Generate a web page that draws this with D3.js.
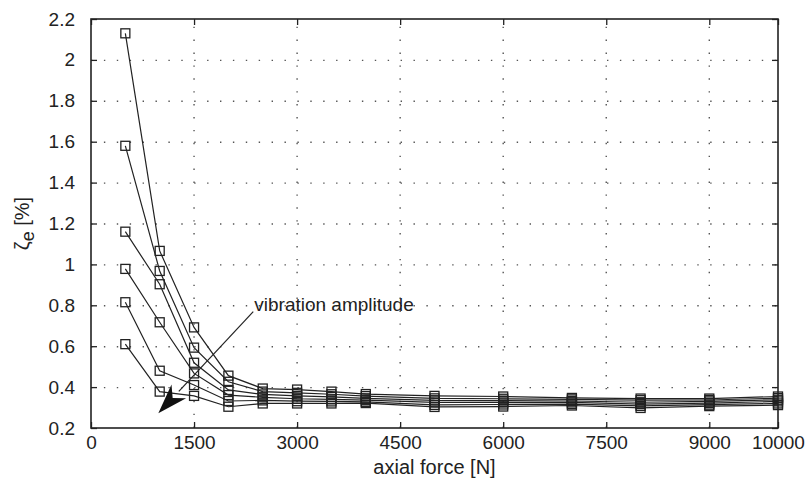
<!DOCTYPE html>
<html>
<head>
<meta charset="utf-8">
<script src="https://cdn.jsdelivr.net/npm/d3@7"></script>
<style>
  body { margin: 0; background: #fff; }
  svg { display: block; font-family: "Liberation Sans", Arial, sans-serif; }
</style>
</head>
<body>
<svg width="808" height="492"></svg>
<script>
// axial force values [N]
var forces = [500, 1000, 1500, 2000, 2500, 3000, 3500, 4000, 5000, 6000, 7000, 8000, 9000, 10000];

// equivalent damping ratio [%], one array per vibration amplitude (largest first)
var amp1 = [2.13, 1.066, 0.692, 0.456, 0.393, 0.388, 0.378, 0.366, 0.357, 0.354, 0.347, 0.344, 0.344, 0.354];
var amp2 = [1.58, 0.968, 0.593, 0.426, 0.378, 0.372, 0.365, 0.356, 0.345, 0.343, 0.340, 0.336, 0.337, 0.346];
var amp3 = [1.16, 0.903, 0.519, 0.386, 0.364, 0.357, 0.352, 0.345, 0.335, 0.334, 0.332, 0.326, 0.330, 0.338];
var amp4 = [0.978, 0.717, 0.467, 0.361, 0.350, 0.343, 0.340, 0.336, 0.325, 0.325, 0.325, 0.317, 0.322, 0.330];
var amp5 = [0.815, 0.48, 0.41, 0.332, 0.335, 0.331, 0.330, 0.328, 0.313, 0.315, 0.317, 0.308, 0.314, 0.320];
var amp6 = [0.61, 0.378, 0.357, 0.304, 0.320, 0.320, 0.320, 0.322, 0.303, 0.305, 0.310, 0.298, 0.307, 0.312];

var xTicks = [0, 1500, 3000, 4500, 6000, 7500, 9000, 10000];
var yTicks = [0.2, 0.4, 0.6, 0.8, 1, 1.2, 1.4, 1.6, 1.8, 2, 2.2];

function main(){
var svg = d3.select("svg"),
    margin = {top: 19, right: 30, bottom: 64, left: 91},
    width = +svg.attr("width") - margin.left - margin.right,
    height = +svg.attr("height") - margin.top - margin.bottom,
    g = svg.append("g").attr("transform", "translate(" + margin.left + "," + margin.top + ")");

var x = d3.scaleLinear().domain([0, 10000]).range([0, width]);
var y = d3.scaleLinear().domain([0.2, 2.2]).range([height, 0]);

var series = [amp1, amp2, amp3, amp4, amp5, amp6].map(function(vals) {
  return vals.map(function(v, i) { return {f: forces[i], z: v}; });
});

// dotted grid
g.append("g").selectAll("line")
  .data(yTicks.slice(1, -1))
  .enter().append("line")
    .attr("x1", 0).attr("x2", width)
    .attr("y1", function(d) { return y(d) + 0.5; })
    .attr("y2", function(d) { return y(d) + 0.5; })
    .attr("stroke", "#555").attr("stroke-width", 1.4)
    .attr("stroke-dasharray", "1.4,11.5");

g.append("g").selectAll("line")
  .data(xTicks.slice(1, -1))
  .enter().append("line")
    .attr("y1", height).attr("y2", 0)
    .attr("x1", function(d) { return x(d); })
    .attr("x2", function(d) { return x(d); })
    .attr("stroke", "#555").attr("stroke-width", 1.4)
    .attr("stroke-dasharray", "1.4,11.5");

// lines
var line = d3.line()
  .x(function(d) { return x(d.f); })
  .y(function(d) { return y(d.z); });

g.append("g").selectAll("path")
  .data(series)
  .enter().append("path")
    .attr("d", line)
    .attr("fill", "none")
    .attr("stroke", "#222")
    .attr("stroke-width", 1.2);

// square markers
g.append("g").selectAll("g")
  .data(series)
  .enter().append("g")
  .selectAll("rect")
  .data(function(d) { return d; })
  .enter().append("rect")
    .attr("x", function(d) { return x(d.f) - 4.5; })
    .attr("y", function(d) { return y(d.z) - 4.5; })
    .attr("width", 9).attr("height", 9)
    .attr("fill", "none")
    .attr("stroke", "#222")
    .attr("stroke-width", 1.3);

// axes with inward ticks on all four sides
var tickLen = 6;
function styleAxis(sel) {
  sel.select(".domain").remove();
  sel.selectAll(".tick line").attr("stroke", "#222").attr("stroke-width", 1.3);
  sel.selectAll(".tick text").attr("fill", "#222").attr("font-size", "19px")
     .attr("font-family", "'Liberation Sans', Arial, sans-serif");
}

g.append("g")
    .attr("transform", "translate(0," + height + ")")
    .call(d3.axisBottom(x).tickValues(xTicks).tickFormat(d3.format("d"))
      .tickSizeInner(-tickLen).tickSizeOuter(0).tickPadding(8))
    .call(styleAxis);

g.append("g")
    .call(d3.axisTop(x).tickValues(xTicks).tickFormat("")
      .tickSizeInner(-tickLen).tickSizeOuter(0))
    .call(styleAxis);

g.append("g")
    .call(d3.axisLeft(y).tickValues(yTicks).tickFormat(d3.format("~g"))
      .tickSizeInner(-tickLen).tickSizeOuter(0).tickPadding(16))
    .call(styleAxis);

g.append("g")
    .attr("transform", "translate(" + width + ",0)")
    .call(d3.axisRight(y).tickValues(yTicks).tickFormat("")
      .tickSizeInner(-tickLen).tickSizeOuter(0))
    .call(styleAxis);

// frame
g.append("rect")
    .attr("width", width).attr("height", height)
    .attr("fill", "none")
    .attr("stroke", "#222")
    .attr("stroke-width", 1.6);

// axis titles
svg.append("text")
    .attr("x", margin.left + width / 2)
    .attr("y", 474)
    .attr("text-anchor", "middle")
    .attr("font-size", "20px")
    .attr("fill", "#222")
    .text("axial force [N]");

var yl = svg.append("text")
    .attr("transform", "translate(29," + (margin.top + height / 2) + ") rotate(-90)")
    .attr("text-anchor", "middle")
    .attr("font-size", "20px")
    .attr("fill", "#222");
yl.append("tspan").text("ζ");
yl.append("tspan").attr("font-size", "18px").attr("dy", 5).text("e");
yl.append("tspan").attr("dy", -5).text(" [%]");

// annotation arrow
var start = {f: 2362, z: 0.769}, tip = {f: 980, z: 0.272};
var sx = x(start.f), sy = y(start.z), tx = x(tip.f), ty = y(tip.z);
var ang = Math.atan2(ty - sy, tx - sx), headLen = 30, headW = 10;
var bx = tx - headLen * Math.cos(ang), by = ty - headLen * Math.sin(ang);

g.append("line")
    .attr("x1", sx).attr("y1", sy).attr("x2", bx).attr("y2", by)
    .attr("stroke", "#222").attr("stroke-width", 1.2);

g.append("path")
    .attr("d", "M" + tx + "," + ty +
      "L" + (bx + headW * Math.sin(ang)) + "," + (by - headW * Math.cos(ang)) +
      "L" + (bx + 0.3 * headLen * Math.cos(ang)) + "," + (by + 0.3 * headLen * Math.sin(ang)) +
      "L" + (bx - headW * Math.sin(ang)) + "," + (by + headW * Math.cos(ang)) + "Z")
    .attr("fill", "#111");

g.append("text")
    .attr("x", sx + 1)
    .attr("y", sy - 1)
    .attr("font-size", "19px")
    .attr("fill", "#222")
    .text("vibration amplitude");
}
main()
</script>
</body>
</html>
